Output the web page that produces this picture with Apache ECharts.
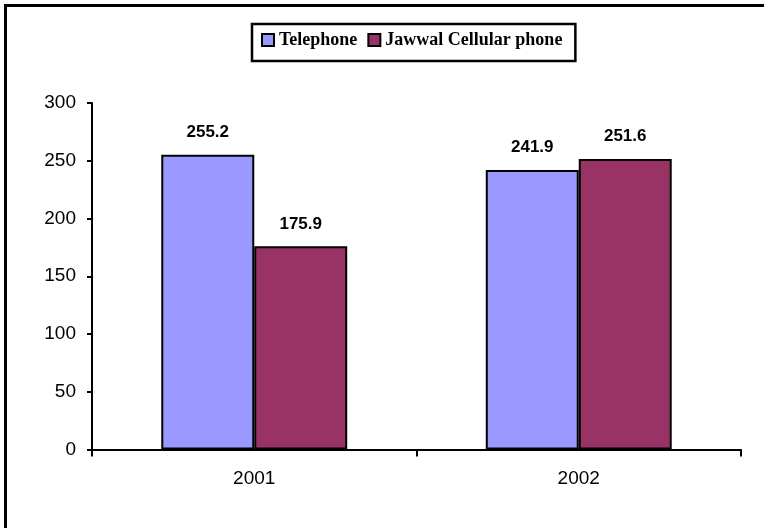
<!DOCTYPE html>
<html>
<head>
<meta charset="utf-8">
<script src="https://cdn.jsdelivr.net/npm/echarts@6/dist/echarts.min.js"></script>
<style>
html,body{margin:0;padding:0;background:#fff;}
#chart{width:764px;height:528px;}
</style>
</head>
<body>
<div id="chart"></div>
<script>
const categories = ['2001', '2002'];
const seriesNames = ['Telephone', 'Jawwal Cellular phone'];
const telephone = [255.2, 241.9];
const jawwal = [175.9, 251.6];
const yTicks = { min: 0, max: 300, interval: 50 };

const chart = echarts.init(document.getElementById('chart'), null, { renderer: 'canvas' });
const labelStyle = {
  show: true, position: 'top', distance: 14,
  fontFamily: 'Liberation Sans, Arial, sans-serif', fontWeight: 'bold', fontSize: 17, color: '#000'
};
chart.setOption({
  animation: false,
  backgroundColor: '#fff',
  graphic: [{
    type: 'rect', silent: true,
    shape: { x: 5.5, y: 5.5, width: 900, height: 700 },
    style: { fill: 'none', stroke: '#000', lineWidth: 3 }
  }],
  legend: {
    left: 252, top: 24,
    padding: [7, 13, 12, 9],
    borderColor: '#000', borderWidth: 2.5,
    itemWidth: 12, itemHeight: 12, itemGap: 10,
    icon: 'rect',
    itemStyle: { borderColor: '#000', borderWidth: 2 },
    textStyle: { fontFamily: 'Liberation Serif, Times New Roman, serif', fontWeight: 'bold', fontSize: 18, color: '#000' },
    data: seriesNames
  },
  grid: { left: 92, right: 23, top: 103, bottom: 78.5, containLabel: false },
  xAxis: {
    type: 'category', data: categories,
    axisLine: { lineStyle: { color: '#000', width: 2 } },
    axisTick: { show: true, length: 7, lineStyle: { color: '#000', width: 2 } },
    axisLabel: { margin: 20, fontFamily: 'Liberation Sans, Arial, sans-serif', fontSize: 19, color: '#000' }
  },
  yAxis: {
    type: 'value', min: yTicks.min, max: yTicks.max, interval: yTicks.interval,
    splitLine: { show: false },
    axisLine: { show: true, lineStyle: { color: '#000', width: 2 } },
    axisTick: { show: true, length: 5, lineStyle: { color: '#000', width: 2 } },
    axisLabel: { margin: 16, fontFamily: 'Liberation Sans, Arial, sans-serif', fontSize: 19, color: '#000' }
  },
  series: [
    {
      name: seriesNames[0], type: 'bar', data: telephone,
      barGap: '0%', barCategoryGap: '42.7%',
      itemStyle: { color: '#9999FF', borderColor: '#000', borderWidth: 2 },
      label: labelStyle
    },
    {
      name: seriesNames[1], type: 'bar', data: jawwal,
      barGap: '0%', barCategoryGap: '42.7%',
      itemStyle: { color: '#993366', borderColor: '#000', borderWidth: 2 },
      label: labelStyle
    }
  ]
});
</script>
</body>
</html>
